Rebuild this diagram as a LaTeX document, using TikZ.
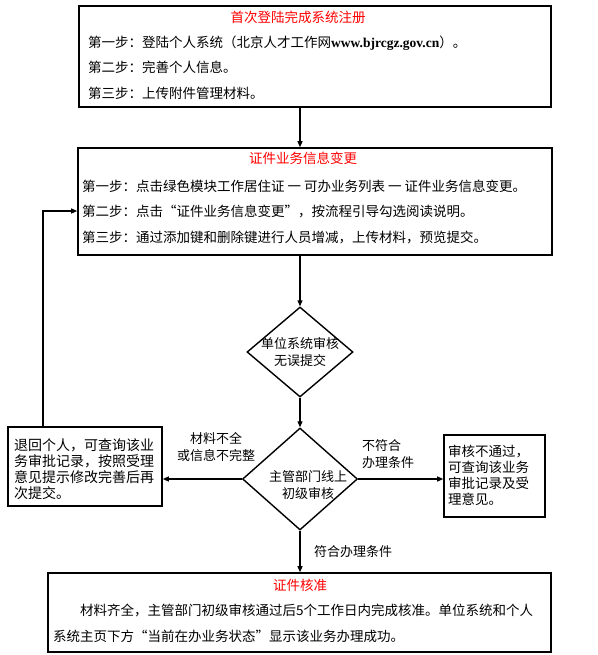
\documentclass[tikz,border=0pt]{standalone}
\usepackage{fontspec}
\setmainfont{Noto Sans CJK SC}
\newfontfamily\urlfont{Liberation Serif}
\usetikzlibrary{shapes.geometric,arrows.meta}

\tikzset{
    box/.style={draw, line width=1.6pt, inner sep=0pt},
    decision/.style={draw, diamond, line width=1.4pt, inner sep=0pt},
    line/.style={line width=1.2pt, -{Triangle[length=6pt,width=5pt]}},
    steps/.style={inner sep=0pt, align=left, font=\fontsize{13.5}{25.5}\selectfont},
    heading/.style={inner sep=0pt, text=red, font=\fontsize{13.5}{16}\selectfont},
    note/.style={inner sep=0pt, font=\fontsize{13}{16.5}\selectfont},
}
\newcommand{\stepdash}{\hspace{3pt}一\hspace{3pt}}

\begin{document}
\begin{tikzpicture}[x=1pt, y=-1pt]
    \useasboundingbox (0,0) rectangle (597,655);

    % Draw the boxes
    \node[box, minimum width=472pt, minimum height=101pt] (reg) at (315,56.5) {};
    \node[box, minimum width=474pt, minimum height=107pt] (change) at (315,201.5) {};
    \node[box, minimum width=154pt, minimum height=79pt] (retbox) at (85,466.5) {};
    \node[box, minimum width=101pt, minimum height=82pt] (failbox) at (494.5,476) {};
    \node[box, minimum width=503pt, minimum height=79pt] (approve) at (299.5,612.5) {};

    % Draw the decisions
    \node[decision, minimum width=106pt, minimum height=90pt,
          label={[note, align=center]center:单位系统审核\\无误提交}] (unit) at (300,352) {};
    \node[decision, minimum width=115pt, minimum height=102pt,
          label={[note, align=center, xshift=8pt, yshift=-6pt]center:主管部门线上\\初级审核}] (dept) at (300,479) {};

    % Texts in the boxes
    \node[heading] (regtitle) at (298,17) {首次登陆完成系统注册};
    \node[steps, anchor=north west] (regsteps) at (88,35.5) {第一步：登陆个人系统（北京人才工作网{\urlfont\bfseries www.bjrcgz.gov.cn}）。\\
        第二步：完善个人信息。\\
        第三步：上传附件管理材料。};
    \node[heading] (changetitle) at (303,158) {证件业务信息变更};
    \node[steps, anchor=north west] (changesteps) at (82,179.5) {第一步：点击绿色模块工作居住证\stepdash 可办业务列表\stepdash 证件业务信息变更。\\
        第二步：点击“证件业务信息变更”，按流程引导勾选阅读说明。\\
        第三步：通过添加键和删除键进行人员增减，上传材料，预览提交。};
    \node[steps, anchor=north west, font=\fontsize{14}{16}\selectfont] (rettext) at (14,438) {退回个人，可查询该业\\
        务审批记录，按照受理\\
        意见提示修改完善后再\\
        次提交。};
    \node[steps, anchor=north west, font=\fontsize{13.5}{16}\selectfont] (failtext) at (448,445) {审核不通过，\\
        可查询该业务\\
        审批记录及受\\
        理意见。};
    \node[heading] (approvetitle) at (300,585) {证件核准};
    \node[steps, anchor=north west, font=\fontsize{13.5}{26.5}\selectfont] (approvetext) at (53,603.5) {\hspace*{27pt}材料齐全，主管部门初级审核通过后5个工作日内完成核准。单位系统和个人\\
        系统主页下方“当前在办业务状态”显示该业务办理成功。};

    % Draw the connectors
    \coordinate (backturn) at (43,211);
    \draw[line] (reg.south -| unit) -- (change.north -| unit);
    \draw[line] (change.south -| unit) -- (unit.north);
    \draw[line] (unit.south) -- (dept.north);
    \draw[line] (dept.west) -- (dept.west -| retbox.east);
    \draw[line] (dept.east) -- (dept.east -| failbox.west);
    \draw[line] (dept.south) -- (dept.south |- approve.north);
    \draw[line] (retbox.north -| backturn) |- (change.west |- backturn);

    % Labels on the connectors
    \node[note, align=center] (lackmsg) at (216,447) {材料不全\\或信息不完整};
    \node[note, align=left, anchor=west] (unfitmsg) at (362,454) {不符合\\办理条件};
    \node[note, anchor=west] (fitmsg) at (314,552) {符合办理条件};
\end{tikzpicture}
\end{document}
